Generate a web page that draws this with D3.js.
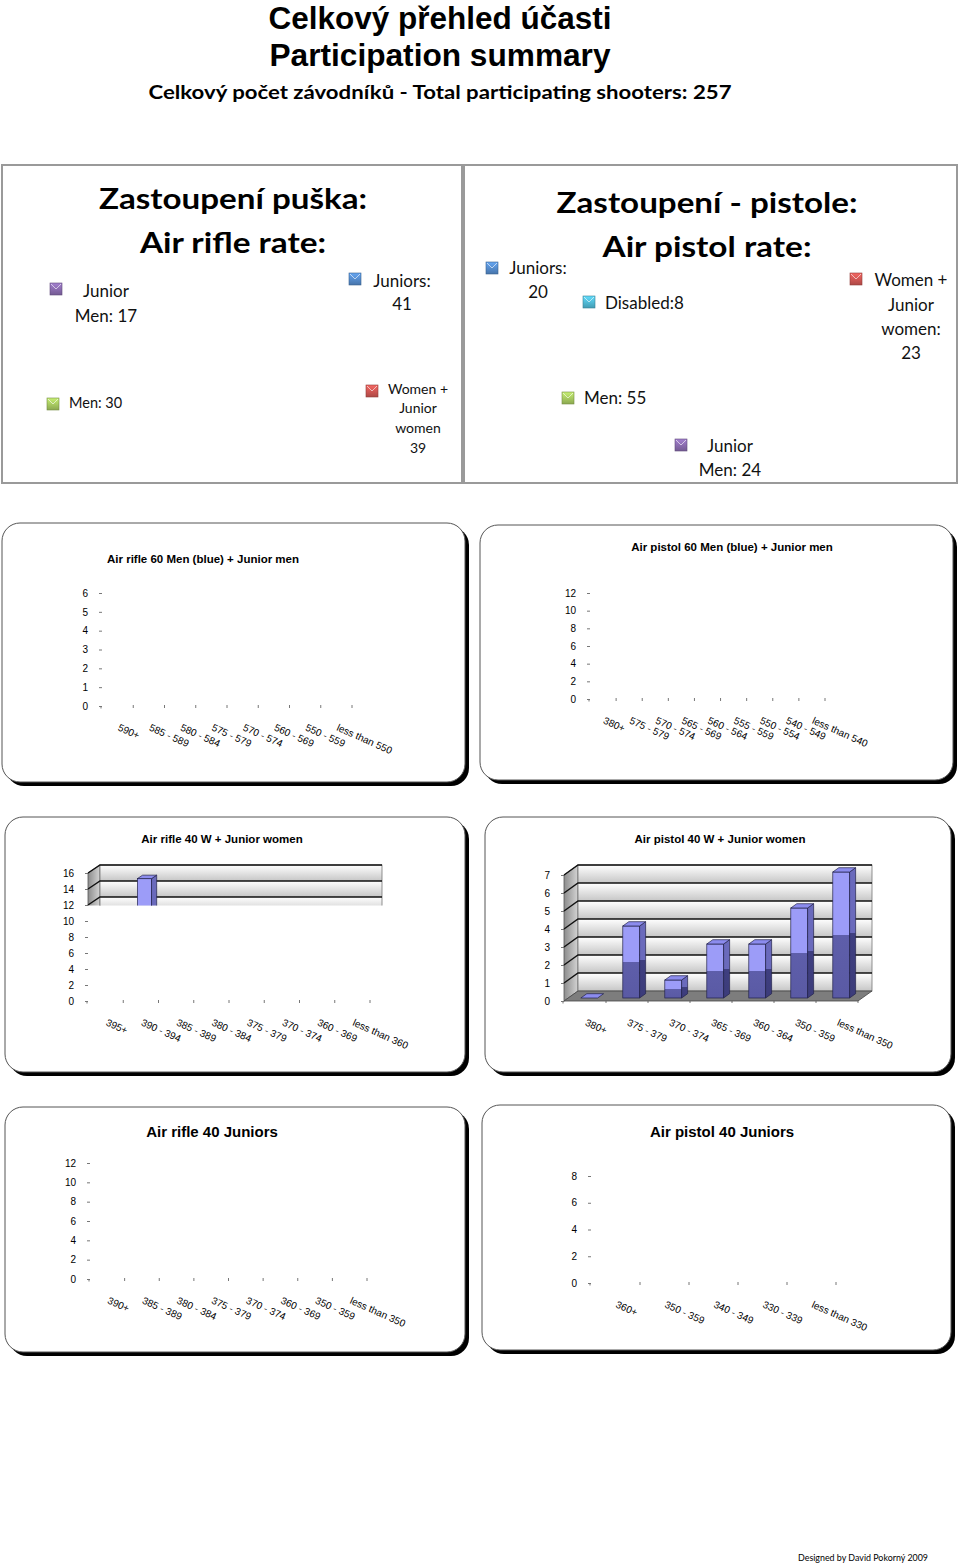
<!DOCTYPE html>
<html><head><meta charset="utf-8">
<script src="https://cdn.jsdelivr.net/npm/d3@7"></script>
<style>body{margin:0;background:#fff}svg{display:block}</style>
</head><body>
<svg id="c" width="960" height="1565"></svg>
<script>
// ---------- DATA ----------
const totalShooters = 257;
const rifleRateLabels = ["Junior Men", "Juniors", "Men", "Women + Junior women"];
const rifleRateValues = [17, 41, 30, 39];
const pistolRateLabels = ["Juniors", "Disabled", "Women + Junior women", "Men", "Junior Men"];
const pistolRateValues = [20, 8, 23, 55, 24];

const rifle60Cats = ["590+", "585 - 589", "580 - 584", "575 - 579", "570 - 574", "560 - 569", "550 - 559", "less than 550"];
const rifle60Vals = [0, 0, 0, 0, 0, 0, 0, 0];
const rifle60Ticks = [0, 1, 2, 3, 4, 5, 6];

const pistol60Cats = ["380+", "575 - 579", "570 - 574", "565 - 569", "560 - 564", "555 - 559", "550 - 554", "540 - 549", "less than 540"];
const pistol60Vals = [0, 0, 0, 0, 0, 0, 0, 0, 0];
const pistol60Ticks = [0, 2, 4, 6, 8, 10, 12];

const rifle40WCats = ["395+", "390 - 394", "385 - 389", "380 - 384", "375 - 379", "370 - 374", "360 - 369", "less than 360"];
const rifle40WVals = [0, 15, 0, 0, 0, 0, 0, 0];
const rifle40WTicks = [0, 2, 4, 6, 8, 10, 12, 14, 16];

const pistol40WCats = ["380+", "375 - 379", "370 - 374", "365 - 369", "360 - 364", "350 - 359", "less than 350"];
const pistol40WVals = [0, 4, 1, 3, 3, 5, 7];
const pistol40WTicks = [0, 1, 2, 3, 4, 5, 6, 7];

const rifle40JCats = ["390+", "385 - 389", "380 - 384", "375 - 379", "370 - 374", "360 - 369", "350 - 359", "less than 350"];
const rifle40JVals = [0, 0, 0, 0, 0, 0, 0, 0];
const rifle40JTicks = [0, 2, 4, 6, 8, 10, 12];

const pistol40JCats = ["360+", "350 - 359", "340 - 349", "330 - 339", "less than 330"];
const pistol40JVals = [0, 0, 0, 0, 0];
const pistol40JTicks = [0, 2, 4, 6, 8];

// ---------- DRAWING ----------
const svg = d3.select("#c");
const defs = svg.append("defs");
const CAL = "Lato, 'Open Sans', sans-serif";
const ARI = "'Liberation Sans', Arial, sans-serif";
const NAR = "'Liberation Sans Narrow', 'Liberation Sans', Arial, sans-serif";

function grad(id, stops, x2, y2) {
  const g = defs.append("linearGradient").attr("id", id)
    .attr("x1", 0).attr("y1", 0).attr("x2", x2).attr("y2", y2);
  stops.forEach(s => g.append("stop").attr("offset", s[0]).attr("stop-color", s[1]));
}
grad("wallBand", [[0, "#ffffff"], [1, "#c6c6c6"]], 0, 1);
grad("leftWall", [[0, "#8c8c8c"], [1, "#d4d4d4"]], 1, 0);
grad("barFront", [[0, "#9c9cf8"], [0.5, "#9c9cf8"], [0.5, "#5e5eaa"], [1, "#5a5aa4"]], 0, 1);
grad("barSide", [[0, "#6a6abc"], [0.5, "#6a6abc"], [0.5, "#3f3f80"], [1, "#3c3c7a"]], 0, 1);
const legendColors = { "Junior Men": "#8064a2", "Juniors": "#4f81bd", "Men": "#9bbb59", "Women + Junior women": "#c0504d", "Disabled": "#4bacc6" };
Object.entries(legendColors).forEach(([k, c], i) => {
  grad("lg" + i, [[0, d3.color(c).brighter(0.7)], [1, d3.color(c).darker(0.3)]], 0, 1);
});
const legendGrad = k => "url(#lg" + Object.keys(legendColors).indexOf(k) + ")";

// page titles
svg.append("text").attr("x", 440).attr("y", 29).attr("text-anchor", "middle")
  .attr("font-family", NAR).attr("font-weight", "bold").attr("font-size", 31)
  .attr("textLength", 343).attr("lengthAdjust", "spacingAndGlyphs").text("Celkový přehled účasti");
svg.append("text").attr("x", 440).attr("y", 66).attr("text-anchor", "middle")
  .attr("font-family", NAR).attr("font-weight", "bold").attr("font-size", 31)
  .attr("textLength", 341).attr("lengthAdjust", "spacingAndGlyphs").text("Participation summary");
svg.append("text").attr("x", 440).attr("y", 99).attr("text-anchor", "middle")
  .attr("font-family", CAL).attr("font-weight", "bold").attr("font-size", 19.5)
  .attr("textLength", 583).attr("lengthAdjust", "spacingAndGlyphs")
  .text("Celkový počet závodníků - Total participating shooters: " + totalShooters);

// top boxes
svg.append("rect").attr("x", 2).attr("y", 165).attr("width", 460).attr("height", 318)
  .attr("fill", "none").attr("stroke", "#9a9a9a").attr("stroke-width", 2);
svg.append("rect").attr("x", 464).attr("y", 165).attr("width", 493).attr("height", 318)
  .attr("fill", "none").attr("stroke", "#9a9a9a").attr("stroke-width", 2);

function boxTitle(lines, cx) {
  lines.forEach(l => svg.append("text").attr("x", cx).attr("y", l.y).attr("text-anchor", "middle")
    .attr("font-family", CAL).attr("font-weight", "bold").attr("font-size", 29)
    .attr("textLength", l.w).attr("lengthAdjust", "spacingAndGlyphs").text(l.t));
}
boxTitle([{ t: "Zastoupení puška:", y: 209, w: 268 }, { t: "Air rifle rate:", y: 253, w: 186 }], 233);
boxTitle([{ t: "Zastoupení - pistole:", y: 213, w: 301 }, { t: "Air pistol rate:", y: 257, w: 209 }], 707);

function legendItem(label, value, L) {
  svg.append("rect").attr("x", L.sx).attr("y", L.sy).attr("width", 12).attr("height", 12)
    .attr("fill", legendGrad(label)).attr("stroke", d3.color(legendColors[label]).darker(0.8)).attr("stroke-width", 0.6);
  svg.append("path").attr("d", `M${L.sx + 1},${L.sy + 1}L${L.sx + 6},${L.sy + 6}L${L.sx + 11},${L.sy + 1}`)
    .attr("fill", "none").attr("stroke", "rgba(255,255,255,0.6)").attr("stroke-width", 1);
  L.lines(value).forEach((t, i) => svg.append("text")
    .attr("x", L.tx).attr("y", L.ty[i]).attr("text-anchor", L.anchor)
    .attr("font-family", CAL).attr("font-size", L.fs).attr("fill", "#111").text(t));
}
const rifleLayout = [
  { sx: 50, sy: 283, tx: 106, ty: [297, 322], anchor: "middle", fs: 17, lines: v => ["Junior", "Men: " + v] },
  { sx: 349, sy: 273, tx: 402, ty: [287, 310], anchor: "middle", fs: 17, lines: v => ["Juniors:", "" + v] },
  { sx: 47, sy: 398, tx: 69, ty: [408], anchor: "start", fs: 14.5, lines: v => ["Men: " + v] },
  { sx: 366, sy: 385, tx: 418, ty: [394, 413, 433, 453], anchor: "middle", fs: 14, lines: v => ["Women +", "Junior", "women", "" + v] }
];
rifleRateLabels.forEach((l, i) => legendItem(l, rifleRateValues[i], rifleLayout[i]));
const pistolLayout = [
  { sx: 486, sy: 262, tx: 538, ty: [274, 298], anchor: "middle", fs: 17, lines: v => ["Juniors:", "" + v] },
  { sx: 583, sy: 296, tx: 605, ty: [309], anchor: "start", fs: 17, lines: v => ["Disabled:" + v] },
  { sx: 850, sy: 273, tx: 911, ty: [286, 311, 335, 359], anchor: "middle", fs: 17, lines: v => ["Women +", "Junior", "women:", "" + v] },
  { sx: 562, sy: 392, tx: 584, ty: [404], anchor: "start", fs: 17, lines: v => ["Men: " + v] },
  { sx: 675, sy: 439, tx: 730, ty: [452, 476], anchor: "middle", fs: 17, lines: v => ["Junior", "Men: " + v] }
];
pistolRateLabels.forEach((l, i) => legendItem(l, pistolRateValues[i], pistolLayout[i]));

// chart panels
function panel(x, y, w, h) {
  svg.append("rect").attr("x", x + 4).attr("y", y + 4).attr("width", w).attr("height", h).attr("rx", 18).attr("fill", "#000");
  svg.append("rect").attr("x", x).attr("y", y).attr("width", w).attr("height", h).attr("rx", 18)
    .attr("fill", "#fff").attr("stroke", "#555").attr("stroke-width", 1);
}
panel(2, 523, 463, 259);
panel(480, 525, 473, 255);
panel(5, 817, 460, 255);
panel(485, 817, 466, 255);
panel(5, 1107, 460, 245);
panel(482, 1105, 469, 245);

function axes(g, o, x, y) {
  g.append("text").attr("x", o.tx).attr("y", o.ty).attr("text-anchor", "middle")
    .attr("font-family", ARI).attr("font-weight", "bold").attr("font-size", o.tfs).text(o.title);
  const ax = g.append("g").attr("transform", `translate(${o.x0},0)`)
    .call(d3.axisLeft(y).tickValues(o.ticks).tickSize(3).tickPadding(11).tickFormat(d3.format("d")));
  ax.select(".domain").remove();
  ax.selectAll(".tick line").attr("stroke", "#777");
  ax.selectAll(".tick text").attr("font-family", ARI).attr("font-size", 10).attr("fill", "#000");
  g.append("path").attr("d", `M${o.x0 - 1},${o.y0}v2.5`).attr("stroke", "#777").attr("fill", "none");
  g.selectAll(null).data(o.cats).join("line")
    .attr("x1", d => x(d) + x.bandwidth()).attr("x2", d => x(d) + x.bandwidth())
    .attr("y1", o.y0 - 1).attr("y2", o.y0 + 2).attr("stroke", "#777");
  g.selectAll(null).data(o.cats).join("text")
    .attr("transform", d => `translate(${x(d) + x.bandwidth() / 2 - 0.5},${o.y0 + 24}) rotate(24)`)
    .attr("font-family", ARI).attr("font-size", 10).attr("fill", "#000").text(d => d);
}

function flatChart(o) {
  const g = svg.append("g");
  const x = d3.scaleBand().domain(o.cats).range([o.x0, o.x1]);
  const y = d3.scaleLinear().domain([0, o.max]).range([o.y0, o.yTop]);
  axes(g, o, x, y);
  g.selectAll(null).data(o.vals).join("rect")
    .attr("x", (d, i) => x(o.cats[i]) + x.bandwidth() * 0.3).attr("width", x.bandwidth() * 0.4)
    .attr("y", d => y(d)).attr("height", d => o.y0 - y(d)).attr("fill", "#9999ff");
}

function chart3D(o) {
  const g = svg.append("g");
  const x = d3.scaleBand().domain(o.cats).range([o.x0, o.x1]);
  const y = d3.scaleLinear().domain([0, o.max]).range([o.y0, o.yTop]);
  axes(g, o, x, y);
  const dx = o.dx, dy = o.dy;
  const body = g.append("g");
  if (o.clip) {
    defs.append("clipPath").attr("id", o.clip.id).append("rect")
      .attr("x", 0).attr("y", o.clip.y1).attr("width", 960).attr("height", o.clip.y2 - o.clip.y1);
    body.attr("clip-path", `url(#${o.clip.id})`);
  }
  const yT = y(o.max);
  body.append("path").attr("d", `M${o.x0},${o.y0}V${yT}L${o.x0 + dx},${yT + dy}V${o.y0 + dy}Z`)
    .attr("fill", "url(#leftWall)").attr("stroke", "#555").attr("stroke-width", 0.8);
  const t = o.ticks;
  for (let i = 0; i < t.length - 1; i++) {
    body.append("rect").attr("x", o.x0 + dx).attr("y", y(t[i + 1]) + dy)
      .attr("width", o.x1 - o.x0).attr("height", y(t[i]) - y(t[i + 1])).attr("fill", "url(#wallBand)");
  }
  body.append("rect").attr("x", o.x0 + dx).attr("y", yT + dy).attr("width", o.x1 - o.x0).attr("height", o.y0 - yT)
    .attr("fill", "none").attr("stroke", "#777").attr("stroke-width", 0.8);
  body.append("path").attr("d", `M${o.x0},${o.y0}H${o.x1}L${o.x1 + dx},${o.y0 + dy}H${o.x0 + dx}Z`)
    .attr("fill", "#7d7d7d").attr("stroke", "#444").attr("stroke-width", 0.8);
  t.slice(1).forEach(v => {
    body.append("path").attr("d", `M${o.x0},${y(v)}L${o.x0 + dx},${y(v) + dy}H${o.x1 + dx}`)
      .attr("fill", "none").attr("stroke", "#111").attr("stroke-width", 1.4);
  });
  const f1 = 0.3, f2 = 0.73, bw = x.bandwidth() * 0.4;
  o.vals.forEach((v, i) => {
    const bx = x(o.cats[i]) + x.bandwidth() * 0.3, yv = y(v);
    const stroke = "#22224a";
    if (v > 0) {
      body.append("rect").attr("x", bx + f1 * dx).attr("y", yv + f1 * dy).attr("width", bw).attr("height", o.y0 - yv)
        .attr("fill", "url(#barFront)").attr("stroke", stroke).attr("stroke-width", 0.7);
      body.append("path").attr("d", `M${bx + bw + f1 * dx},${yv + f1 * dy}L${bx + bw + f2 * dx},${yv + f2 * dy}V${o.y0 + f2 * dy}L${bx + bw + f1 * dx},${o.y0 + f1 * dy}Z`)
        .attr("fill", "url(#barSide)").attr("stroke", stroke).attr("stroke-width", 0.7);
    }
    body.append("path").attr("d", `M${bx + f1 * dx},${yv + f1 * dy}H${bx + bw + f1 * dx}L${bx + bw + f2 * dx},${yv + f2 * dy}H${bx + f2 * dx}Z`)
      .attr("fill", "#8c8cee").attr("stroke", stroke).attr("stroke-width", 0.7);
  });
}

flatChart({ title: "Air rifle 60 Men (blue) + Junior men", tx: 203, ty: 563, tfs: 11.5,
  cats: rifle60Cats, vals: rifle60Vals, ticks: rifle60Ticks, max: 6, x0: 102, x1: 352, y0: 706, yTop: 593 });
flatChart({ title: "Air pistol 60 Men (blue) + Junior men", tx: 732, ty: 551, tfs: 11.5,
  cats: pistol60Cats, vals: pistol60Vals, ticks: pistol60Ticks, max: 12, x0: 590, x1: 825, y0: 699, yTop: 593 });
chart3D({ title: "Air rifle 40 W + Junior women", tx: 222, ty: 843, tfs: 11.5,
  cats: rifle40WCats, vals: rifle40WVals, ticks: rifle40WTicks, max: 16, x0: 88, x1: 370, y0: 1001, yTop: 873,
  dx: 12, dy: -8, clip: { id: "cut3", y1: 850, y2: 905.5 } });
chart3D({ title: "Air pistol 40 W + Junior women", tx: 720, ty: 843, tfs: 11.5,
  cats: pistol40WCats, vals: pistol40WVals, ticks: pistol40WTicks, max: 7, x0: 564, x1: 858, y0: 1001, yTop: 875,
  dx: 14, dy: -10 });
flatChart({ title: "Air rifle 40 Juniors", tx: 212, ty: 1137, tfs: 15,
  cats: rifle40JCats, vals: rifle40JVals, ticks: rifle40JTicks, max: 12, x0: 90, x1: 367, y0: 1279, yTop: 1163 });
flatChart({ title: "Air pistol 40 Juniors", tx: 722, ty: 1137, tfs: 15,
  cats: pistol40JCats, vals: pistol40JVals, ticks: pistol40JTicks, max: 8, x0: 591, x1: 836, y0: 1283, yTop: 1176 });

svg.append("text").attr("x", 863).attr("y", 1561).attr("text-anchor", "middle")
  .attr("font-family", CAL).attr("font-size", 10).attr("textLength", 130).attr("lengthAdjust", "spacingAndGlyphs")
  .text("Designed by David Pokorný 2009");
</script>
</body></html>
